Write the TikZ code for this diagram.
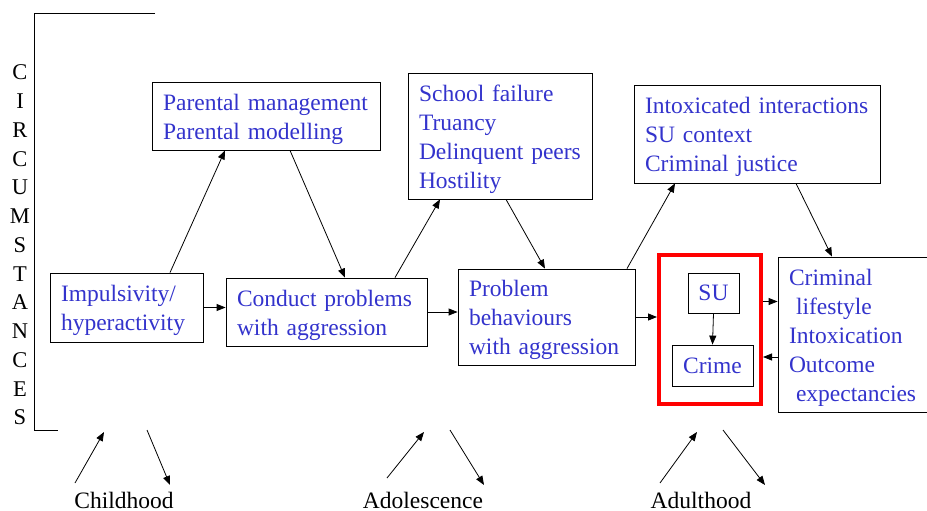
\documentclass[tikz,border=0pt]{standalone}
\usepackage{fontspec}
\setmainfont{Liberation Serif}
\usepackage{tikz}
\usetikzlibrary{arrows.meta}
\definecolor{txtblue}{RGB}{51,51,204}

\begin{document}
\begin{tikzpicture}[x=1pt,y=-1pt,>={Triangle[length=9pt,width=7pt]},
	box/.style={draw,line width=0.8pt,text=txtblue,align=left,inner xsep=11pt,inner ysep=0pt,font=\fontsize{23.5}{29}\selectfont,
		execute at begin node={\rule{0pt}{23pt}}},
	smallbox/.style={draw,line width=0.8pt,text=txtblue,inner sep=0pt,font=\fontsize{23.5}{29}\selectfont},
	link/.style={->,line width=0.8pt},
	stage/.style={inner sep=0pt,anchor=base,font=\fontsize{23.5}{29}\selectfont}]
			\useasboundingbox (0,0) rectangle (927,511);
			
			% circumstances bracket
			\draw[line width=0.8pt] (155,13)--(34,13)--(34,430)--(58,430);
			\node[align=center,inner sep=0pt,font=\fontsize{22.5}{28.75}\selectfont] (circ) at (20,245)
			{C\\I\\R\\C\\U\\M\\S\\T\\A\\N\\C\\E\\S};
			
			% main chain
			\node[box,text width=131pt,minimum height=69pt] (impuls) at (126.5,307.5)
			{Impulsivity/\\hyperactivity};
			\node[box,text width=206pt,minimum height=68pt] (parent) at (266,116)
			{Parental management\\Parental modelling};
			\node[box,text width=179pt,minimum height=68pt] (conduct) at (326.5,312)
			{Conduct problems\\with aggression};
			\node[box,text width=162pt,minimum height=126pt] (school) at (500,136)
			{School failure\\Truancy\\Delinquent peers\\Hostility};
			\node[box,text width=155pt,minimum height=96pt] (problem) at (546.5,317)
			{Problem\\behaviours\\with aggression};
			\node[box,text width=224pt,minimum height=98pt] (intox) at (757,134)
			{Intoxicated interactions\\SU context\\Criminal justice};
			\node[box,text width=132pt,minimum height=155pt] (crim) at (855,334.5)
			{Criminal\\\hspace*{0.3em}lifestyle\\Intoxication\\Outcome\\\hspace*{0.3em}expectancies};
			
			% SU and crime
			\node[draw=red,line width=4pt,minimum width=102pt,minimum height=149pt] (suwrap) at (710,329.5) {};
			\node[smallbox,minimum width=51pt,minimum height=40pt] (su) at (713.5,293) {SU};
			\node[smallbox,minimum width=81pt,minimum height=41pt] (crime) at (712.5,365.5) {Crime};
			
			\draw[link] (impuls.east) -- (conduct.west |- impuls.east);
			\draw[link] ([xshift=43.5pt]impuls.north) -- ([xshift=-41pt]parent.south);
			\draw[link] ([xshift=24pt]parent.south) -- ([xshift=18.5pt]conduct.north);
			\draw[link] ([xshift=68.5pt]conduct.north) -- ([xshift=-60pt]school.south);
			\draw[link] ([xshift=6pt]school.south) -- ([xshift=-1.5pt]problem.north);
			\draw[link] (conduct.east) -- (problem.west |- conduct.east);
			\draw[link] (problem.east) -- (suwrap.west |- problem.east);
			\draw[link] ([xshift=80.5pt]problem.north) -- ([xshift=-82pt]intox.south);
			\draw[link] ([xshift=39pt]intox.south) -- ([xshift=-23pt]crim.north);
			\draw[link] (su.south) -- (crime.north);
			\draw[link] ([yshift=28pt]suwrap.east) -- (crim.west |- 0,301.5);
			\draw[link] (crim.west |- 0,357) -- ([yshift=-27.5pt]suwrap.east);
			
			% life stages
			\node[stage] (child) at (124,508) {Childhood};
			\node[stage] (adol) at (423,508) {Adolescence};
			\node[stage] (adult) at (701,508) {Adulthood};
			\coordinate (c1) at (75,483);
			\coordinate (c2) at (104,432);
			\coordinate (c3) at (147,430);
			\coordinate (c4) at (170,485);
			\coordinate (a1) at (387,478);
			\coordinate (a2) at (424,432);
			\coordinate (a3) at (450,430);
			\coordinate (a4) at (484,485);
			\coordinate (d1) at (660,483);
			\coordinate (d2) at (697,432);
			\coordinate (d3) at (723,430);
			\coordinate (d4) at (765,485);
			\draw[link] (c1) -- (c2);
			\draw[link] (c3) -- (c4);
			\draw[link] (a1) -- (a2);
			\draw[link] (a3) -- (a4);
			\draw[link] (d1) -- (d2);
			\draw[link] (d3) -- (d4);
		\end{tikzpicture}
\end{document}
